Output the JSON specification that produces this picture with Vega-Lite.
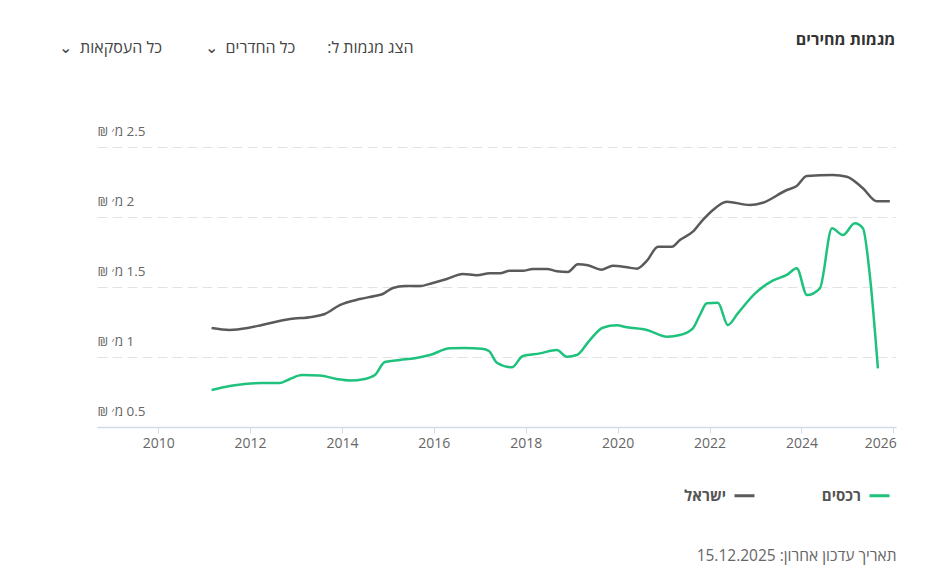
{
  "$schema": "https://vega.github.io/schema/vega-lite/v6.json",
  "width": 799,
  "height": 280,
  "autosize": {"type": "none"},
  "padding": {"left": 97, "top": 147, "right": 39, "bottom": 142},
  "background": "white",
  "title": {"text": "מגמות מחירים", "anchor": "end", "fontSize": 16, "fontWeight": "bold", "color": "#333", "font": "Open Sans", "offset": 0, "dy": 9, "dx": -1},
  "config": {
    "view": {"stroke": null},
    "font": "Open Sans"
  },
  "data": {"values": [
    {"date": "2011-03-01", "series": "ישראל", "price": 1.207},
    {"date": "2011-07-22", "series": "ישראל", "price": 1.193},
    {"date": "2011-12-13", "series": "ישראל", "price": 1.207},
    {"date": "2012-04-04", "series": "ישראל", "price": 1.229},
    {"date": "2012-07-16", "series": "ישראל", "price": 1.25},
    {"date": "2012-11-13", "series": "ישראל", "price": 1.271},
    {"date": "2013-05-05", "series": "ישראל", "price": 1.286},
    {"date": "2013-08-17", "series": "ישראל", "price": 1.307},
    {"date": "2013-12-14", "series": "ישראל", "price": 1.371},
    {"date": "2014-05-23", "series": "ישראל", "price": 1.414},
    {"date": "2014-09-19", "series": "ישראל", "price": 1.436},
    {"date": "2014-11-21", "series": "ישראל", "price": 1.45},
    {"date": "2015-02-09", "series": "ישראל", "price": 1.493},
    {"date": "2015-05-15", "series": "ישראל", "price": 1.507},
    {"date": "2015-09-12", "series": "ישראל", "price": 1.507},
    {"date": "2015-12-24", "series": "ישראל", "price": 1.529},
    {"date": "2016-04-13", "series": "ישראל", "price": 1.557},
    {"date": "2016-08-18", "series": "ישראל", "price": 1.593},
    {"date": "2016-12-08", "series": "ישראל", "price": 1.584},
    {"date": "2017-03-21", "series": "ישראל", "price": 1.598},
    {"date": "2017-06-09", "series": "ישראל", "price": 1.598},
    {"date": "2017-08-27", "series": "ישראל", "price": 1.616},
    {"date": "2017-12-08", "series": "ישראל", "price": 1.616},
    {"date": "2018-02-27", "series": "ישראל", "price": 1.629},
    {"date": "2018-06-18", "series": "ישראל", "price": 1.629},
    {"date": "2018-09-05", "series": "ישראל", "price": 1.612},
    {"date": "2018-12-01", "series": "ישראל", "price": 1.607},
    {"date": "2019-02-19", "series": "ישראל", "price": 1.662},
    {"date": "2019-05-09", "series": "ישראל", "price": 1.655},
    {"date": "2019-08-28", "series": "ישראל", "price": 1.624},
    {"date": "2019-11-24", "series": "ישראל", "price": 1.652},
    {"date": "2020-03-15", "series": "ישראל", "price": 1.641},
    {"date": "2020-06-03", "series": "ישראל", "price": 1.631},
    {"date": "2020-08-21", "series": "ישראל", "price": 1.688},
    {"date": "2020-11-17", "series": "ישראל", "price": 1.788},
    {"date": "2021-03-08", "series": "ישראל", "price": 1.788},
    {"date": "2021-05-10", "series": "ישראל", "price": 1.836},
    {"date": "2021-08-21", "series": "ישראל", "price": 1.895},
    {"date": "2021-11-09", "series": "ישראל", "price": 1.979},
    {"date": "2022-01-28", "series": "ישראל", "price": 2.05},
    {"date": "2022-05-18", "series": "ישראל", "price": 2.109},
    {"date": "2022-11-17", "series": "ישראל", "price": 2.086},
    {"date": "2023-02-28", "series": "ישראל", "price": 2.102},
    {"date": "2023-09-07", "series": "ישראל", "price": 2.193},
    {"date": "2023-11-25", "series": "ישראל", "price": 2.221},
    {"date": "2024-02-12", "series": "ישראל", "price": 2.293},
    {"date": "2024-09-08", "series": "ישראל", "price": 2.30},
    {"date": "2024-12-27", "series": "ישראל", "price": 2.288},
    {"date": "2025-05-04", "series": "ישראל", "price": 2.205},
    {"date": "2025-08-23", "series": "ישראל", "price": 2.112},
    {"date": "2025-12-04", "series": "ישראל", "price": 2.112},
    {"date": "2011-03-01", "series": "רכסים", "price": 0.764},
    {"date": "2011-07-22", "series": "רכסים", "price": 0.793},
    {"date": "2011-11-19", "series": "רכסים", "price": 0.807},
    {"date": "2012-04-04", "series": "רכסים", "price": 0.814},
    {"date": "2012-08-25", "series": "רכסים", "price": 0.814},
    {"date": "2012-11-13", "series": "רכסים", "price": 0.843},
    {"date": "2013-02-16", "series": "רכסים", "price": 0.871},
    {"date": "2013-07-08", "series": "רכסים", "price": 0.868},
    {"date": "2013-11-20", "series": "רכסים", "price": 0.843},
    {"date": "2014-03-04", "series": "רכסים", "price": 0.832},
    {"date": "2014-07-01", "series": "רכסים", "price": 0.843},
    {"date": "2014-09-19", "series": "רכסים", "price": 0.871},
    {"date": "2014-12-07", "series": "רכסים", "price": 0.964},
    {"date": "2015-04-06", "series": "רכסים", "price": 0.979},
    {"date": "2015-08-03", "series": "רכסים", "price": 0.991},
    {"date": "2015-11-30", "series": "רכסים", "price": 1.014},
    {"date": "2016-05-08", "series": "רכסים", "price": 1.062},
    {"date": "2016-09-04", "series": "רכסים", "price": 1.064},
    {"date": "2017-01-17", "series": "רכסים", "price": 1.059},
    {"date": "2017-03-14", "series": "רכסים", "price": 1.043},
    {"date": "2017-05-16", "series": "רכסים", "price": 0.959},
    {"date": "2017-09-12", "series": "רכסים", "price": 0.926},
    {"date": "2017-12-08", "series": "רכסים", "price": 1.007},
    {"date": "2018-04-23", "series": "רכסים", "price": 1.026},
    {"date": "2018-09-05", "series": "רכסים", "price": 1.05},
    {"date": "2018-11-23", "series": "רכסים", "price": 1.002},
    {"date": "2019-02-11", "series": "רכסים", "price": 1.014},
    {"date": "2019-05-25", "series": "רכסים", "price": 1.121},
    {"date": "2019-09-05", "series": "רכסים", "price": 1.209},
    {"date": "2019-12-25", "series": "רכסים", "price": 1.226},
    {"date": "2020-03-15", "series": "רכסים", "price": 1.212},
    {"date": "2020-08-21", "series": "רכסים", "price": 1.193},
    {"date": "2021-01-27", "series": "רכסים", "price": 1.145},
    {"date": "2021-05-10", "series": "רכסים", "price": 1.157},
    {"date": "2021-08-21", "series": "רכסים", "price": 1.205},
    {"date": "2021-10-16", "series": "רכסים", "price": 1.30},
    {"date": "2021-12-10", "series": "רכסים", "price": 1.384},
    {"date": "2022-03-08", "series": "רכסים", "price": 1.388},
    {"date": "2022-05-26", "series": "רכסים", "price": 1.229},
    {"date": "2022-08-13", "series": "רכסים", "price": 1.312},
    {"date": "2022-12-29", "series": "רכסים", "price": 1.455},
    {"date": "2023-05-18", "series": "רכסים", "price": 1.545},
    {"date": "2023-09-07", "series": "רכסים", "price": 1.586},
    {"date": "2023-11-25", "series": "רכסים", "price": 1.634},
    {"date": "2024-02-14", "series": "רכסים", "price": 1.443},
    {"date": "2024-05-27", "series": "רכסים", "price": 1.491},
    {"date": "2024-08-31", "series": "רכסים", "price": 1.919},
    {"date": "2024-11-25", "series": "רכסים", "price": 1.871},
    {"date": "2025-03-01", "series": "רכסים", "price": 1.955},
    {"date": "2025-05-04", "series": "רכסים", "price": 1.919},
    {"date": "2025-06-29", "series": "רכסים", "price": 1.574},
    {"date": "2025-08-31", "series": "רכסים", "price": 0.919}
  ]},
  "mark": {"type": "line", "interpolate": "monotone", "strokeWidth": 2.5},
  "encoding": {
    "x": {
      "field": "date", "type": "temporal",
      "scale": {"type": "utc", "domain": [{"year": 2008, "month": 9, "date": 1, "utc": true}, {"year": 2026, "month": 1, "date": 22, "utc": true}]},
      "axis": {
        "values": [{"year": 2010, "utc": true}, {"year": 2012, "utc": true}, {"year": 2014, "utc": true}, {"year": 2016, "utc": true}, {"year": 2018, "utc": true}, {"year": 2020, "utc": true}, {"year": 2022, "utc": true}, {"year": 2024, "utc": true}, {"year": 2026, "utc": true}],
        "format": "%Y",
        "grid": false,
        "domainColor": "#d3d9ea",
        "domainWidth": 1.5,
        "tickColor": "#d3d9ea",
        "tickSize": 6,
        "labelColor": "#666",
        "labelFontSize": 14,
        "labelFont": "Open Sans",
        "labelPadding": 3,
        "labelFlush": 5,
        "labelFlushOffset": 3,
        "title": "\u200fתאריך עדכון אחרון: 15.12.2025",
        "titleAnchor": "end",
        "titleFontSize": 15.5,
        "titleFontWeight": "normal",
        "titleColor": "#666",
        "titleFont": "Open Sans",
        "titlePadding": 98
      }
    },
    "y": {
      "field": "price", "type": "quantitative",
      "scale": {"domain": [0.5, 2.5], "nice": false, "zero": false},
      "axis": {
        "values": [0.5, 1, 1.5, 2, 2.5],
        "labelExpr": "'\u200f' + datum.value + ' מ׳ ₪\u200f'",
        "domain": false,
        "ticks": false,
        "tickSize": 0,
        "labelAlign": "left",
        "labelPadding": 0,
        "labelBaseline": "alphabetic",
        "labelOffset": -12,
        "labelColor": "#666",
        "labelFontSize": 13.5,
        "labelFont": "Open Sans",
        "grid": true,
        "gridColor": "#e2e2e2",
        "gridDash": [10, 5],
        "gridWidth": 1,
        "title": "\u202bהצג מגמות ל:\u2003\u2003כל החדרים\u2002⌄\u2003\u2003\u2002\u2009כל העסקאות\u2002⌄\u202c",
        "titleAngle": 0,
        "titleAlign": "right",
        "titleBaseline": "middle",
        "titleX": 316,
        "titleY": -100,
        "titleFontSize": 16,
        "titleFontWeight": "normal",
        "titleColor": "#444",
        "titleFont": "Open Sans"
      }
    },
    "color": {
      "field": "series", "type": "nominal",
      "scale": {"domain": ["ישראל", "רכסים"], "range": ["#5a5a5a", "#1ec27c"]},
      "legend": {
        "orient": "none",
        "legendX": 636,
        "legendY": 337,
        "direction": "horizontal",
        "title": null,
        "symbolType": "stroke",
        "symbolStrokeWidth": 3,
        "symbolSize": 400,
        "labelFontSize": 15,
        "labelFontWeight": "bold",
        "labelColor": "#555",
        "labelFont": "Open Sans",
        "labelAlign": "right",
        "labelOffset": -30,
        "columnPadding": 60
      }
    }
  }
}
